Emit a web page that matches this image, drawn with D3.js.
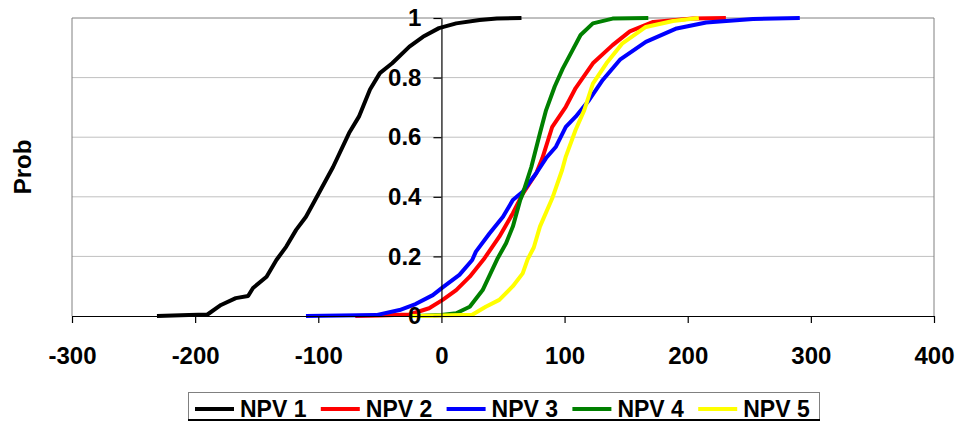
<!DOCTYPE html>
<html>
<head>
<meta charset="utf-8">
<script src="https://cdn.jsdelivr.net/npm/d3@7.9.0/dist/d3.min.js"></script>
<style>
  body { margin: 0; background: #fff; }
  svg text { font-family: "Liberation Sans", Arial, sans-serif; font-weight: bold; fill: #000; }
</style>
</head>
<body>
<svg id="chart" width="958" height="421"></svg>
<script>
// tick labels
const xTicks = [-300, -200, -100, 0, 100, 200, 300, 400];
const yTicks = [0, 0.2, 0.4, 0.6, 0.8, 1];

// series: [NPV value, cumulative probability]
const seriesNames = ['NPV 1', 'NPV 2', 'NPV 3', 'NPV 4', 'NPV 5'];
const seriesColors = ['#000000', '#ff0000', '#0000ff', '#008000', '#ffff00'];

const npv1 = [
  [-231, 0], [-205, 0.003], [-190, 0.005], [-179, 0.037], [-167, 0.06], [-157, 0.067],
  [-153, 0.094], [-142, 0.132], [-134, 0.188], [-126, 0.233], [-118, 0.289], [-110, 0.333],
  [-103, 0.386], [-88, 0.5], [-75, 0.614], [-67, 0.669], [-58, 0.76], [-50, 0.815],
  [-40, 0.848], [-26, 0.904], [-15, 0.937], [-2, 0.966], [12, 0.982], [31, 0.993],
  [45, 0.998], [65, 1]
];
const npv2 = [
  [-70, 0], [-50, 0.002], [-26, 0.005], [-10, 0.026], [1, 0.054], [12, 0.087], [23, 0.132],
  [35, 0.194], [47, 0.266], [58, 0.345], [66, 0.41], [77, 0.479], [82, 0.53],
  [90, 0.635], [101, 0.702], [109, 0.765], [123, 0.848], [139, 0.909], [153, 0.955],
  [172, 0.987], [204, 0.998], [231, 1]
];
const npv3 = [
  [-110, 0], [-53, 0.003], [-34, 0.02], [-21, 0.04], [-7, 0.07], [1, 0.096], [14.6, 0.138],
  [25, 0.188], [28, 0.216], [39, 0.277], [50, 0.333], [58, 0.389], [66, 0.417],
  [77, 0.479], [85, 0.53], [93, 0.568], [101, 0.635], [109, 0.669], [120, 0.725],
  [131, 0.792], [145, 0.86], [166, 0.92], [191, 0.965], [215, 0.985], [253, 0.997], [291, 1]
];
const npv4 = [
  [-20, 0], [0, 0.003], [12, 0.009], [23, 0.031], [33.5, 0.087], [45.7, 0.194], [52.5, 0.244],
  [58, 0.3], [64, 0.389], [66, 0.41], [73, 0.5], [80, 0.613], [85, 0.691], [92, 0.77],
  [98.5, 0.83], [106.6, 0.893], [113, 0.943], [123, 0.982], [139, 0.998], [168, 1]
];
const npv5 = [
  [-25, 0], [0, 0.002], [25, 0.004], [36, 0.031], [47, 0.054], [58, 0.1], [66, 0.143],
  [70, 0.19], [75, 0.23], [80, 0.3], [90, 0.395], [98, 0.49], [101, 0.535], [109, 0.625],
  [116, 0.691], [123, 0.78], [134, 0.848], [147, 0.915], [166, 0.97], [188, 0.99], [209, 1]
];
const allSeries = [npv1, npv2, npv3, npv4, npv5];

const width = 958, height = 421;
const margin = { top: 18, right: 24, bottom: 105, left: 72 };

const svg = d3.select('#chart');

const x = d3.scaleLinear()
  .domain([xTicks[0], xTicks[xTicks.length - 1]])
  .range([margin.left, width - margin.right]);

const y = d3.scaleLinear()
  .domain([0, 1])
  .range([height - margin.bottom, margin.top]);

// gridlines + plot border
svg.append('g')
  .selectAll('line')
  .data(yTicks.filter(d => d > 0))
  .join('line')
  .attr('x1', x.range()[0]).attr('x2', x.range()[1])
  .attr('y1', d => y(d)).attr('y2', d => y(d))
  .attr('stroke', d => d === 1 ? '#808080' : '#c0c0c0')
  .attr('stroke-width', 1);

svg.append('g')
  .selectAll('line')
  .data(x.range())
  .join('line')
  .attr('x1', d => d).attr('x2', d => d)
  .attr('y1', y(1)).attr('y2', y(0))
  .attr('stroke', '#808080');

// curves
const line = d3.line()
  .x(d => x(d[0]))
  .y(d => y(d[1]));

svg.append('g')
  .selectAll('path')
  .data(allSeries)
  .join('path')
  .attr('d', line)
  .attr('fill', 'none')
  .attr('stroke', (d, i) => seriesColors[i])
  .attr('stroke-width', 4)
  .attr('stroke-linejoin', 'round');

// axes (plain hyphen for negatives, as in the original)
const xAxis = svg.append('g')
  .attr('transform', `translate(0,${y(0)})`)
  .call(d3.axisBottom(x).tickValues(xTicks).tickSize(7).tickSizeOuter(0).tickPadding(24)
    .tickFormat(d => String(d)));

const yAxis = svg.append('g')
  .attr('transform', `translate(${x(0)},0)`)
  .call(d3.axisLeft(y).tickValues(yTicks).tickSize(8).tickSizeOuter(0).tickPadding(12)
    .tickFormat(d => String(d)));

[xAxis, yAxis].forEach(g => {
  g.attr('font-family', null).attr('font-size', null);
  g.select('.domain').attr('stroke', '#000').attr('stroke-width', 1.2);
  g.selectAll('.tick line').attr('stroke', '#000').attr('stroke-width', 1.2);
  g.selectAll('.tick text').style('font-size', '24px');
});

// y label
svg.append('text')
  .attr('transform', `translate(31,${(y(0) + y(1)) / 2}) rotate(-90)`)
  .attr('text-anchor', 'middle')
  .style('font-size', '24px')
  .text('Prob');

// legend
const legend = svg.append('g');
legend.append('rect')
  .attr('x', 188.5).attr('y', 392.5)
  .attr('width', 631).attr('height', 40)
  .attr('fill', '#fff')
  .attr('stroke', '#808080');
legend.append('line')
  .attr('x1', 188).attr('x2', 820)
  .attr('y1', 420).attr('y2', 420)
  .attr('stroke', '#000').attr('stroke-width', 2);

const entry = legend.selectAll('g.entry')
  .data(seriesNames)
  .join('g')
  .attr('class', 'entry')
  .attr('transform', (d, i) => `translate(${195 + i * 125.8},0)`);

entry.append('line')
  .attr('x1', 0).attr('x2', 39)
  .attr('y1', 409).attr('y2', 409)
  .attr('stroke', (d, i) => seriesColors[i])
  .attr('stroke-width', 4);

entry.append('text')
  .attr('x', 45).attr('y', 417)
  .style('font-size', '23px')
  .text(d => d);
</script>
</body>
</html>
